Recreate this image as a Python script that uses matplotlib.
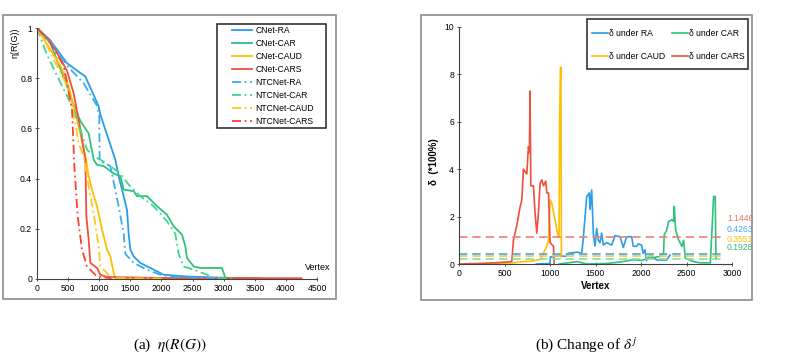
import matplotlib
matplotlib.use("Agg")
import matplotlib.pyplot as plt
from matplotlib.patches import Rectangle

plt.rcParams['font.family'] = ['Liberation Sans', 'DejaVu Sans']
plt.rcParams['mathtext.fontset'] = 'stix'

# ---- (a) eta(R(G)) data ----
ra_x = [0, 214, 482, 589, 777, 991, 1018, 1179, 1259, 1312, 1393, 1446, 1473, 1500, 1554, 1660, 1821, 2036, 2411, 3000, 3600]
ra_y = [1, 0.95, 0.86, 0.84, 0.807, 0.688, 0.655, 0.535, 0.475, 0.41, 0.33, 0.276, 0.18, 0.117, 0.09, 0.064, 0.044, 0.017, 0.01, 0.005, 0.002]
ntc_ra_x = [0, 214, 482, 750, 964, 1000, 1007, 1179, 1312, 1393, 1420, 1554, 1768, 1982, 2200, 3000]
ntc_ra_y = [1, 0.95, 0.85, 0.78, 0.69, 0.65, 0.47, 0.45, 0.29, 0.18, 0.10, 0.064, 0.037, 0.017, 0.008, 0.003]
car_x = [0, 214, 482, 563, 696, 830, 911, 964, 1072, 1232, 1339, 1393, 1554, 1607, 1768, 1929, 2089, 2196, 2330, 2384, 2411, 2518, 2625, 2973, 3027, 3500]
car_y = [1, 0.94, 0.77, 0.71, 0.63, 0.58, 0.475, 0.455, 0.45, 0.42, 0.41, 0.356, 0.35, 0.33, 0.33, 0.29, 0.256, 0.21, 0.177, 0.13, 0.084, 0.05, 0.044, 0.044, 0.004, 0.002]
ntc_car_x = [0, 150, 321, 482, 589, 804, 911, 1125, 1339, 1473, 1661, 1875, 2089, 2223, 2277, 2357, 2518, 2732, 2839, 3200]
ntc_car_y = [1, 0.9, 0.81, 0.73, 0.675, 0.515, 0.49, 0.46, 0.42, 0.376, 0.33, 0.29, 0.23, 0.18, 0.10, 0.05, 0.037, 0.017, 0.004, 0.002]
caud_x = [0, 375, 482, 589, 696, 777, 830, 884, 964, 1045, 1125, 1179, 1232, 1259, 1500, 2500]
caud_y = [1, 0.85, 0.79, 0.69, 0.58, 0.49, 0.41, 0.356, 0.29, 0.197, 0.117, 0.09, 0.024, 0.004, 0.003, 0.002]
ntc_caud_x = [0, 160, 482, 589, 670, 750, 830, 911, 991, 1018, 1125, 1179, 2000]
ntc_caud_y = [1, 0.93, 0.77, 0.66, 0.54, 0.49, 0.37, 0.26, 0.13, 0.05, 0.024, 0.004, 0.002]
cars_x = [0, 214, 482, 589, 696, 777, 793, 830, 857, 964, 1018, 1125, 2000, 4250]
cars_y = [1, 0.95, 0.83, 0.74, 0.6, 0.475, 0.25, 0.157, 0.064, 0.044, 0.017, 0.008, 0.004, 0.003]
ntc_cars_x = [0, 214, 429, 563, 600, 654, 723, 804, 964, 1200]
ntc_cars_y = [1, 0.94, 0.85, 0.675, 0.45, 0.25, 0.117, 0.05, 0.01, 0.003]

# ---- (b) delta data ----
ra_d_x = [850, 1000, 1005, 1100, 1180, 1200, 1300, 1348, 1364, 1403, 1432, 1440, 1458, 1476, 1494, 1513, 1531, 1549, 1568, 1586, 1623, 1678, 1714, 1769, 1806, 1842, 1897, 1915, 1952, 1970, 2006, 2024, 2043, 2061, 2100, 2172, 2282, 2319]
ra_d_y = [0, 0.02, 0.3, 0.35, 0.32, 0.45, 0.5, 0.45, 1.0, 2.84, 3.0, 2.3, 3.12, 1.3, 0.76, 1.5, 1.0, 0.9, 1.3, 0.8, 0.9, 0.8, 1.2, 1.15, 0.7, 1.15, 1.15, 0.75, 0.75, 0.85, 0.8, 0.45, 0.6, 0.15, 0.38, 0.17, 0.17, 0.38]
car_d_x = [1100, 1200, 1300, 1350, 1400, 1625, 1800, 1918, 2000, 2101, 2211, 2248, 2255, 2285, 2303, 2340, 2358, 2366, 2380, 2413, 2450, 2468, 2487, 2578, 2651, 2762, 2780, 2798, 2816, 2824]
car_d_y = [0, 0.05, 0.1, 0.05, 0, 0.02, 0.1, 0.18, 0.15, 0.25, 0.32, 0.46, 1.23, 1.45, 1.8, 1.87, 1.8, 2.43, 1.45, 1.02, 0.74, 1.0, 0.25, 0.1, 0.05, 0.05, 1.45, 2.85, 2.85, 0.2]
caud_d_x = [150, 400, 600, 700, 800, 900, 928, 960, 983, 1001, 1018, 1055, 1073, 1091, 1100, 1105, 1115, 1120, 1125]
caud_d_y = [0, 0.02, 0.05, 0.1, 0.12, 0.2, 0.46, 0.7, 1.0, 2.7, 2.6, 1.86, 1.5, 1.15, 1.2, 5.9, 8.3, 8.3, 0.3]
cars_d_x = [0, 200, 400, 580, 598, 634, 653, 671, 690, 708, 745, 763, 774, 781, 789, 818, 836, 855, 873, 891, 910, 928, 953, 965, 983, 1001, 1038, 1045]
cars_d_y = [0, 0.02, 0.05, 0.1, 1.0, 1.6, 2.0, 2.4, 2.7, 4.0, 3.8, 4.95, 4.7, 7.3, 3.3, 3.3, 2.15, 1.3, 2.15, 3.4, 3.55, 3.3, 3.5, 3.0, 3.0, 0.9, 0.75, 0]
means = [1.1446, 0.4263, 0.3551, 0.1928]
mean_labels = ['1.1446', '0.4263', '0.3551', '0.1928']

blue = '#2a9de8'
green = '#2ec27e'
orange = '#ffbf00'
red = '#f0503c'
fs = 6.2

W, H = 797, 362
fig = plt.figure(figsize=(W / 100, H / 100), dpi=100)


def box(l, t, r, b):
    return [l / W, 1 - b / H, (r - l) / W, (b - t) / H]


def rect(l, t, r, b, color, lw):
    fig.patches.append(Rectangle((l / W, 1 - b / H), (r - l) / W, (b - t) / H,
                                 transform=fig.transFigure, fill=False,
                                 edgecolor=color, lw=lw, zorder=5))


# outer chart frames
rect(3, 15, 336, 299, '#8c8c8c', 1.2)
rect(421, 15, 752, 300, '#8c8c8c', 1.2)


def style(ax):
    for s in ['top', 'right']:
        ax.spines[s].set_visible(False)
    for s in ['left', 'bottom']:
        ax.spines[s].set_color('#404040')
        ax.spines[s].set_linewidth(0.8)
    ax.tick_params(labelsize=fs, direction='inout', length=3, width=0.6, color='#404040', pad=2)


# ---- left panel ----
ax1 = fig.add_axes(box(37, 28, 317, 279))
style(ax1)
lw = 1.3
dd = (0, (5, 2, 1, 2))
ax1.plot(ra_x, ra_y, color=blue, lw=lw, label='CNet-RA')
ax1.plot(car_x, car_y, color=green, lw=lw, label='CNet-CAR')
ax1.plot(caud_x, caud_y, color=orange, lw=lw, label='CNet-CAUD')
ax1.plot(cars_x, cars_y, color=red, lw=lw, label='CNet-CARS')
ax1.plot(ntc_ra_x, ntc_ra_y, color='#38aef0', lw=lw, ls=dd, label='NTCNet-RA')
ax1.plot(ntc_car_x, ntc_car_y, color='#3cd890', lw=lw, ls=dd, label='NTCNet-CAR')
ax1.plot(ntc_caud_x, ntc_caud_y, color='#ffc820', lw=lw, ls=dd, label='NTCNet-CAUD')
ax1.plot(ntc_cars_x, ntc_cars_y, color='#ff4030', lw=lw, ls=dd, label='NTCNet-CARS')
ax1.set_xlim(0, 4500)
ax1.set_ylim(0, 1)
ax1.set_xticks(range(0, 4501, 500))
ax1.set_yticks([0, 0.2, 0.4, 0.6, 0.8, 1])
ax1.set_yticklabels(['0', '0.2', '0.4', '0.6', '0.8', '1'])
ax1.legend(loc='upper left', bbox_to_anchor=(232 / W, 1 - 26 / H), bbox_transform=fig.transFigure,
           fontsize=fs, frameon=False, handlelength=2.3, handletextpad=0.45,
           labelspacing=0.47, borderpad=0, borderaxespad=0)
rect(217, 24, 326, 128, '#333333', 1.2)
fig.text(15 / W, 1 - 28 / H, 'η(R(G))', rotation=90, ha='center', va='top', fontsize=fs + 0.3)
fig.text(318 / W, 1 - 267 / H, 'Vertex', ha='center', va='center', fontsize=fs + 0.3)

# ---- right panel ----
ax2 = fig.add_axes(box(459, 27, 732, 264))
style(ax2)
lw2 = 1.2
l_ra, = ax2.plot(ra_d_x, ra_d_y, color=blue, lw=lw2, label='δ under RA')
l_car, = ax2.plot(car_d_x, car_d_y, color=green, lw=lw2, label='δ under CAR')
l_caud, = ax2.plot(caud_d_x, caud_d_y, color=orange, lw=lw2, label='δ under CAUD')
l_cars, = ax2.plot(cars_d_x, cars_d_y, color=red, lw=lw2, label='δ under CARS')
mean_colors = ['#f08070', '#40a8f0', '#ffc830', '#7de0b0']
for m, c in zip(means, mean_colors):
    ax2.plot([0, 2920], [m, m], color=c, lw=1.2, ls=(0, (5, 3)))
for lab, yp, c in zip(mean_labels, [219, 229, 239, 248], ['#f07060', '#40a8f0', '#ffc000', '#30c080']):
    fig.text(727 / W, 1 - yp / H, lab, color=c, fontsize=fs, ha='left', va='center')
ax2.set_xlim(0, 3000)
ax2.set_ylim(0, 10)
ax2.set_xticks(range(0, 3001, 500))
ax2.set_yticks(range(0, 11, 2))
ax2.set_xlabel('Vertex', fontsize=fs + 0.8, fontweight='bold', labelpad=2)
ax2.set_ylabel('δ  (*100%)', fontsize=fs + 0.8, fontweight='bold')
ax2.yaxis.set_label_coords(-0.075, 0.43)
ax2.legend(handles=[l_ra, l_caud, l_car, l_cars], ncol=2, loc='upper left',
           bbox_to_anchor=(592 / W, 1 - 29 / H), bbox_transform=fig.transFigure,
           fontsize=fs, frameon=False, handlelength=1.9, handletextpad=0.12,
           labelspacing=1.65, columnspacing=0.7, borderpad=0, borderaxespad=0)
rect(587, 19, 748, 69, '#333333', 1.2)

# captions
fig.text(170 / W, 1 - 345 / H, r'(a)  $\eta(R(G))$', ha='center', va='center', fontsize=11,
         family='Liberation Serif')
fig.text(586 / W, 1 - 345 / H, r'(b) Change of $\delta^j$', ha='center', va='center', fontsize=11,
         family='Liberation Serif')

fig.savefig('out.png', dpi=100)
